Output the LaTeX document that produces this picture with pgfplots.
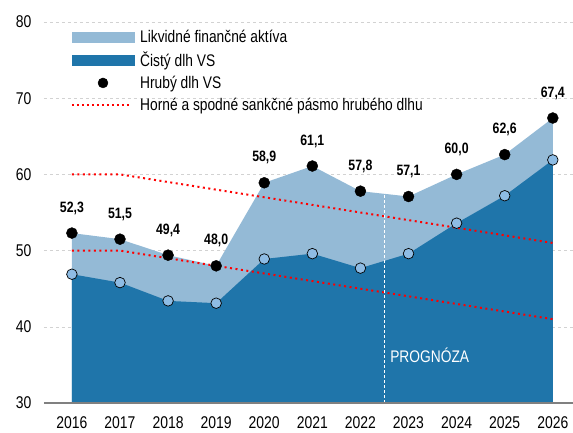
\documentclass[border=0pt]{standalone}
\usepackage{fontspec}
\setmainfont{Liberation Sans}[FakeStretch=0.82]
\usepackage{pgfplots}
\pgfplotsset{compat=1.18}
\definecolor{lightarea}{HTML}{94BAD6}
\definecolor{darkarea}{HTML}{1F75AA}
\definecolor{netfill}{HTML}{8EBCE4}
\begin{document}
\begin{tikzpicture}
\begin{axis}[
  scale only axis, width=529bp, height=381bp,
  xmin=2015.42, xmax=2026.42, ymin=30, ymax=80,
  xtick={2016,...,2026}, ytick={30,40,...,80},
  /pgf/number format/1000 sep={},
  /pgf/number format/assume math mode=true,
  tick label style={font=\fontsize{17bp}{20bp}\selectfont},
  major tick length=0pt,
  axis x line*=bottom, axis y line*=left,
  x axis line style={draw=none},
  y axis line style={draw=none},
  ymajorgrids, grid style={gray!35, dashed, line width=0.5bp},
  xticklabel style={yshift=-10bp},
  yticklabel style={xshift=-9bp},
  legend style={draw=none, fill=none, at={(0.045,0.99)}, anchor=north west,
    font=\fontsize{16.8bp}{19bp}\selectfont, row sep=4bp,
    /tikz/every odd column/.append style={column sep=4bp}},
  legend cell align=left,
  clip=true,
]
\addlegendimage{legend image code/.code={\fill[lightarea] (0bp,-5bp) rectangle (62bp,5bp);}}
\addlegendentry{Likvidné finančné aktíva}
\addlegendimage{legend image code/.code={\fill[darkarea] (0bp,-5bp) rectangle (62bp,5bp);}}
\addlegendentry{Čistý dlh VS}
\addlegendimage{legend image code/.code={\path[draw=none,fill=none] (0bp,-1bp) rectangle (62bp,1bp); \fill[black] (31bp,0) circle (5bp);}}
\addlegendentry{Hrubý dlh VS}
\addlegendimage{legend image code/.code={\draw[red, line width=2bp, dash pattern=on 2bp off 3bp] (0bp,0) -- (59bp,0); \path[draw=none,fill=none] (0bp,-1bp) rectangle (62bp,1bp);}}
\addlegendentry{Horné a spodné sankčné pásmo hrubého dlhu}

% light area (gross debt)
\addplot[draw=none, fill=lightarea, forget plot] coordinates {
(2016,52.3)(2017,51.5)(2018,49.4)(2019,48.0)(2020,58.9)(2021,61.1)(2022,57.8)(2023,57.1)(2024,60.0)(2025,62.6)(2026,67.4)} |- (axis cs:2016,25) -- cycle;
% dark area (net debt)
\addplot[draw=none, fill=darkarea, forget plot] coordinates {
(2016,46.9)(2017,45.8)(2018,43.4)(2019,43.1)(2020,48.9)(2021,49.6)(2022,47.7)(2023,49.6)(2024,53.6)(2025,57.2)(2026,61.9)} |- (axis cs:2016,25) -- cycle;
% sanction bands
\addplot[red, line width=2bp, dash pattern=on 2bp off 3.5bp, forget plot] coordinates {
(2016,60)(2017,60)(2018,59)(2019,58)(2020,57)(2021,56)(2022,55)(2023,54)(2024,53)(2025,52)(2026,51)};
\addplot[red, line width=2bp, dash pattern=on 2bp off 3.5bp, forget plot] coordinates {
(2016,50)(2017,50)(2018,49)(2019,48)(2020,47)(2021,46)(2022,45)(2023,44)(2024,43)(2025,42)(2026,41)};
% forecast divider
\addplot[white, line width=0.8bp, dash pattern=on 3bp off 2bp, forget plot] coordinates {(2022.5,30)(2022.5,57.45)};
% net debt markers
\addplot[only marks, mark=*, mark size=5.3bp, mark options={fill=netfill, draw=black, line width=0.7bp}, forget plot] coordinates {
(2016,46.9)(2017,45.8)(2018,43.4)(2019,43.1)(2020,48.9)(2021,49.6)(2022,47.7)(2023,49.6)(2024,53.6)(2025,57.2)(2026,61.9)};
% gross debt markers with labels
\addplot[only marks, mark=*, mark size=5.5bp, black, forget plot,
  point meta=explicit symbolic, nodes near coords,
  every node near coord/.style={anchor=center, yshift=25bp, font=\fontsize{15bp}{18bp}\selectfont\bfseries, black}]
  table[meta=label] {
x y label
2016 52.3 52,3
2017 51.5 51,5
2018 49.4 49,4
2019 48.0 48,0
2020 58.9 58,9
2021 61.1 61,1
2022 57.8 57,8
2023 57.1 57,1
2024 60.0 60,0
2025 62.6 62,6
2026 67.4 67,4
};
\draw[gray, line width=2.5bp] (rel axis cs:0,0) -- (rel axis cs:1,0);
\node[white, font=\fontsize{16.8bp}{19bp}\selectfont] at (axis cs:2023.44,36.3) {PROGNÓZA};
\end{axis}
\pgfresetboundingbox
\path[use as bounding box] (-44bp,-30bp) rectangle (529bp,403bp);
\end{tikzpicture}
\end{document}
